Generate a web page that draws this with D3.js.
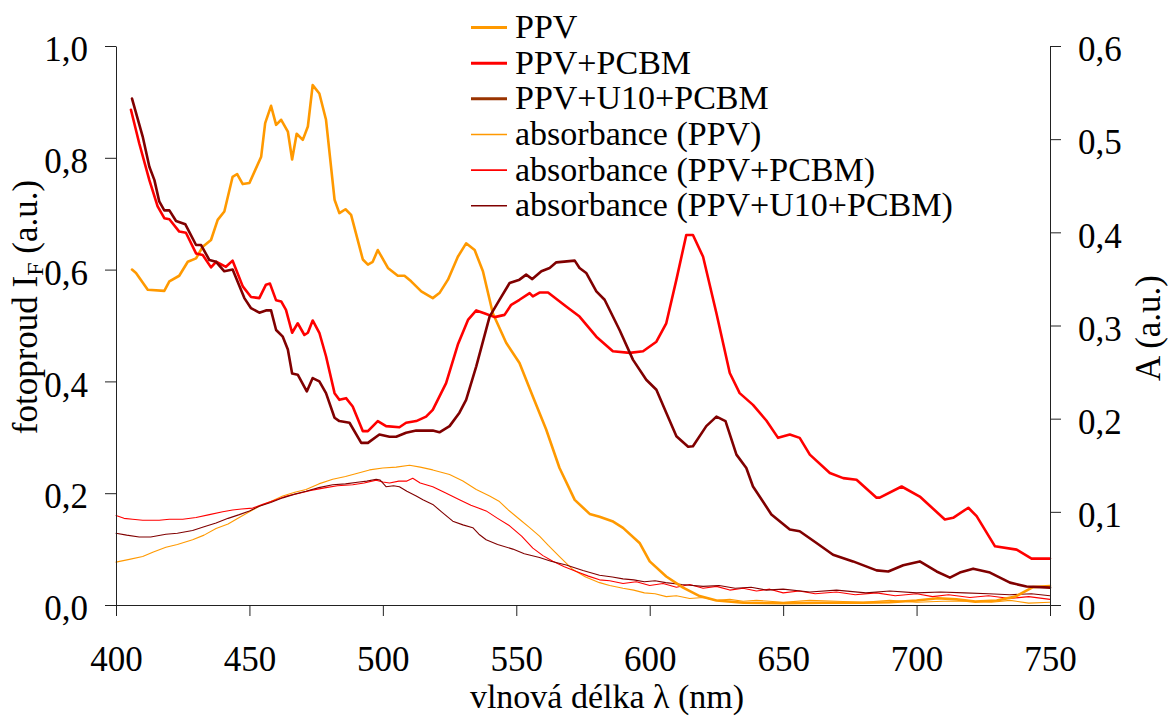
<!DOCTYPE html>
<html>
<head>
<meta charset="utf-8">
<script src="https://cdn.jsdelivr.net/npm/d3@7"></script>
<style>
html,body{margin:0;padding:0;background:#fff;}
svg{display:block;}
text{font-family:"Liberation Serif","Times New Roman","DejaVu Serif",serif;fill:#000;}
</style>
</head>
<body>
<svg id="chart" width="1168" height="718"></svg>
<script>
// ---------- DATA ----------
const xTicks = [400,450,500,550,600,650,700,750];
const yLeftTicks = [0,0.2,0.4,0.6,0.8,1.0];
const yRightTicks = [0,0.1,0.2,0.3,0.4,0.5,0.6];

const seriesNames = ["PPV","PPV+PCBM","PPV+U10+PCBM","absorbance (PPV)","absorbance (PPV+PCBM)","absorbance (PPV+U10+PCBM)"];

// photocurrent PPV (left axis)
const ppvWl = [406,407.5,411.9,418.1,420,423.7,426.9,430,432.5,435.6,438.1,440.6,443.7,445.4,447.5,450,454.4,455.9,458.1,460,461.9,464.4,466,467.7,470,471.9,473.7,476.2,478.7,481.9,483.7,486,488.1,492.5,494.4,496.2,498.1,501.9,505.6,508.1,510.6,514.4,518.7,521.2,524.4,528.1,531.2,534.4,537.5,541.2,546.2,551.2,556.2,561.2,566.2,571.9,577.5,581.2,586,590,596.2,600,606.2,612.5,618.7,625,635,650,665,680,690,700,708,715,722,730,737,743.6,750];
const ppvVal = [0.600,0.594,0.564,0.562,0.579,0.589,0.614,0.620,0.641,0.653,0.689,0.704,0.766,0.771,0.753,0.755,0.802,0.862,0.893,0.859,0.868,0.847,0.797,0.843,0.832,0.856,0.930,0.915,0.868,0.725,0.701,0.708,0.698,0.618,0.609,0.614,0.635,0.603,0.589,0.589,0.579,0.561,0.549,0.558,0.582,0.623,0.647,0.635,0.597,0.522,0.469,0.433,0.373,0.314,0.245,0.188,0.163,0.158,0.150,0.138,0.111,0.078,0.051,0.031,0.016,0.008,0.004,0.003,0.004,0.004,0.005,0.008,0.012,0.010,0.006,0.008,0.015,0.032,0.034];

// photocurrent PPV+PCBM (left axis)
const pcbmWl = [405.6,408.7,412.5,415.6,418.1,420,423.7,426.2,430,432.5,435.6,437.5,441.2,443.7,447.5,450.6,453.7,456.2,457.7,460,461.9,463.7,466,468.1,470.6,471.9,473.7,476.2,478.7,481.9,483.7,486.2,488.7,492.5,494.4,498.1,501.2,506.2,508.7,512.5,516.2,518.7,523.7,528.1,531.9,535,538,541.9,545.6,548.1,551.2,555,556.2,558.7,561.9,568.7,573.7,580,586.2,592.5,597.5,602.5,606.2,610,613.7,616.2,620,625,630,633.7,638.7,643.7,648.1,652.5,656.2,660,667.5,672.5,677.5,685,686.2,694.4,701.2,710.6,713.7,719.4,722.5,729.4,737.5,743.1,750];
const pcbmVal = [0.886,0.826,0.760,0.713,0.692,0.690,0.668,0.666,0.629,0.626,0.604,0.614,0.605,0.616,0.570,0.551,0.549,0.573,0.575,0.545,0.543,0.528,0.487,0.504,0.483,0.487,0.509,0.487,0.445,0.379,0.367,0.370,0.355,0.311,0.311,0.329,0.320,0.318,0.326,0.329,0.337,0.349,0.397,0.466,0.510,0.527,0.522,0.515,0.519,0.537,0.546,0.558,0.552,0.559,0.559,0.534,0.516,0.480,0.454,0.451,0.454,0.471,0.504,0.582,0.662,0.662,0.623,0.522,0.415,0.379,0.358,0.330,0.299,0.305,0.299,0.269,0.236,0.227,0.224,0.192,0.192,0.212,0.194,0.153,0.156,0.174,0.159,0.105,0.099,0.083,0.083];

// photocurrent PPV+U10+PCBM (left axis)
const u10Wl = [406,410,412.5,414.4,416.2,418.1,420,422.5,426,430,431.9,435,437.5,440.6,443.7,448.1,450.6,453.7,456.2,458.1,460,462.5,464.4,466,468.1,471.5,473.7,476.2,478.7,481.9,483.7,487.5,491.9,494.4,498.7,502.5,505,508.7,512.5,518.7,521.2,525,528.7,531.2,535,540,543.7,547.5,551.2,553.7,556,559.4,562.5,565,571.9,573.7,576.2,580,583.1,588.7,593.7,598.7,602.5,606.2,610,614.4,616.2,621.2,625,628.4,632.5,636.2,638.7,645.6,652.5,656.2,662.5,668.7,676.2,685,689.4,695,701.2,707.5,712.5,716.2,721.2,727.5,735,741.2,750];
const u10Val = [0.906,0.838,0.784,0.760,0.722,0.706,0.706,0.687,0.681,0.644,0.644,0.617,0.614,0.597,0.600,0.549,0.531,0.523,0.527,0.527,0.492,0.480,0.457,0.414,0.412,0.382,0.406,0.400,0.379,0.335,0.329,0.326,0.290,0.290,0.305,0.301,0.301,0.308,0.312,0.312,0.309,0.320,0.344,0.367,0.427,0.516,0.546,0.576,0.582,0.591,0.583,0.597,0.603,0.613,0.616,0.603,0.594,0.561,0.546,0.492,0.439,0.403,0.385,0.344,0.302,0.283,0.284,0.320,0.337,0.329,0.269,0.245,0.212,0.162,0.135,0.132,0.111,0.090,0.078,0.062,0.060,0.071,0.078,0.060,0.049,0.058,0.065,0.058,0.040,0.033,0.031];

// absorbance PPV (right axis)
const absPpvWl = [400,405,410,414,418.7,423,428.7,433,437.5,442,446.2,450,453.7,458,462.5,467,471.2,476,481.2,486,491.2,495,500,505,510,514,518.7,525,530,535,540,543.7,547,551.2,555,558.7,562,566.2,571.2,576,581.2,585,590,594,598,602,606.2,610,615,620,625,630,635,640,650,660,670,680,690,700,710,720,728,735,742,750];
const absPpvVal = [0.046,0.049,0.052,0.057,0.062,0.065,0.070,0.075,0.082,0.087,0.094,0.100,0.106,0.111,0.117,0.121,0.124,0.130,0.135,0.138,0.142,0.145,0.147,0.148,0.150,0.148,0.145,0.140,0.133,0.124,0.117,0.111,0.102,0.092,0.083,0.074,0.064,0.052,0.038,0.030,0.024,0.021,0.018,0.016,0.013,0.012,0.009,0.010,0.007,0.008,0.005,0.006,0.004,0.005,0.003,0.005,0.004,0.003,0.005,0.003,0.004,0.004,0.003,0.005,0.002,0.003];

// absorbance PPV+PCBM (right axis)
const absPcbmWl = [400,403,406.2,410,416.2,420,425,430,435,440,443.7,447,451.2,455,460,464,468.7,473,478.7,483,488.7,493,497.5,500,502.5,506,509,511.2,514,518.7,523,528.7,533,538.7,543,547.5,552,556.2,560,563.7,568,572.5,577,581.2,585,590,595,600,605,610,615,620,625,630,635,640,645,650,656,662,670,677,685,692,700,706,712,720,727,735,742,750];
const absPcbmVal = [0.096,0.093,0.092,0.091,0.091,0.092,0.092,0.094,0.097,0.100,0.102,0.103,0.104,0.108,0.113,0.117,0.120,0.123,0.126,0.128,0.129,0.131,0.134,0.132,0.131,0.133,0.133,0.136,0.131,0.127,0.121,0.113,0.107,0.101,0.093,0.085,0.074,0.061,0.053,0.047,0.041,0.036,0.031,0.027,0.026,0.023,0.025,0.021,0.023,0.019,0.022,0.018,0.020,0.016,0.018,0.015,0.017,0.013,0.015,0.012,0.014,0.011,0.013,0.010,0.012,0.009,0.011,0.008,0.010,0.007,0.009,0.006];

// absorbance PPV+U10+PCBM (right axis)
const absU10Wl = [400,404,408.7,413,418.7,423,428.7,433,437.5,442,446.2,450,453.7,458,462.5,467,471.2,476,481.2,486,491.2,494,497.5,499,501.2,504,506.2,509,512.5,515,518.7,522,526.2,530,533.7,536,538.7,543,548.7,553,558.7,563,568.7,575,581.2,586,590,594,598,602,606,612,620,626,632,638,643.7,650,660,670,681,690,700,709,718,727,735,743,750];
const absU10Val = [0.077,0.075,0.073,0.073,0.076,0.077,0.080,0.084,0.088,0.093,0.097,0.101,0.106,0.110,0.115,0.119,0.122,0.126,0.129,0.130,0.132,0.133,0.135,0.134,0.127,0.128,0.127,0.122,0.117,0.113,0.108,0.100,0.090,0.086,0.083,0.076,0.070,0.065,0.060,0.055,0.051,0.047,0.043,0.037,0.032,0.030,0.028,0.027,0.025,0.026,0.024,0.022,0.020,0.021,0.018,0.019,0.016,0.017,0.014,0.016,0.013,0.015,0.013,0.014,0.013,0.012,0.011,0.012,0.010];

const colors = ["#FF9900","#FF0000","#800000","#FF9900","#FF0000","#800000"];
const legendSwatchColors = ["#FF9900","#FF0000","#993300","#FF9900","#FF0000","#800000"];
const widths = [2.6,2.6,2.6,1.1,1.1,1.1];

// ---------- CHART ----------
const svg = d3.select("#chart");
const x = d3.scaleLinear().domain([400,750]).range([116,1050]);
const yL = d3.scaleLinear().domain([0,1]).range([605,46]);
const yR = d3.scaleLinear().domain([0,0.6]).range([605,46]);

const comma1 = d => d3.format(".1f")(d).replace(".",",");

const series = [
  {wl:ppvWl, v:ppvVal, y:yL},
  {wl:pcbmWl, v:pcbmVal, y:yL},
  {wl:u10Wl, v:u10Val, y:yL},
  {wl:absPpvWl, v:absPpvVal, y:yR},
  {wl:absPcbmWl, v:absPcbmVal, y:yR},
  {wl:absU10Wl, v:absU10Val, y:yR}
];

const drawOrder = [3,4,5,0,1,2];
drawOrder.forEach(i => {
  const s = series[i];
  const pts = s.wl.map((w,k)=>[w,s.v[k]]);
  const line = d3.line().x(d=>x(d[0])).y(d=>s.y(d[1]));
  svg.append("path").attr("d",line(pts)).attr("fill","none")
    .attr("stroke",colors[i]).attr("stroke-width",widths[i])
    .attr("stroke-linejoin","round").attr("stroke-linecap","round");
});

function styleAxis(g){
  g.selectAll("path.domain").attr("stroke","#222").attr("stroke-width",1);
  g.selectAll(".tick line").attr("stroke","#222").attr("stroke-width",1);
  g.selectAll("text").attr("font-size",35).attr("fill","#000")
    .style("font-family",'"Liberation Serif","Times New Roman","DejaVu Serif",serif');
}
const gL = svg.append("g").attr("transform","translate(116,0)")
  .call(d3.axisLeft(yL).tickValues(yLeftTicks).tickFormat(comma1).tickSize(11).tickSizeOuter(0).tickPadding(17));
styleAxis(gL); gL.selectAll("text").attr("dy","0.42em");

const gR = svg.append("g").attr("transform","translate(1050,0)")
  .call(d3.axisRight(yR).tickValues(yRightTicks).tickFormat(d=> d===0 ? "0" : comma1(d)).tickSize(11).tickSizeOuter(0).tickPadding(17));
styleAxis(gR); gR.selectAll("text").attr("dy","0.42em");

const gB = svg.append("g").attr("transform","translate(0,605)")
  .call(d3.axisBottom(x).tickValues(xTicks).tickFormat(d3.format("d")).tickSize(11).tickSizeOuter(0).tickPadding(30));
styleAxis(gB);

svg.append("text").attr("x",607).attr("y",708).attr("text-anchor","middle").attr("font-size",34)
  .text("vlnová délka λ (nm)");

const tl = svg.append("text").attr("transform","translate(37,307) rotate(-90)")
  .attr("text-anchor","middle").attr("font-size",35);
tl.append("tspan").text("fotoproud I");
tl.append("tspan").attr("font-size",24).attr("dy",6).text("F");
tl.append("tspan").attr("dy",-6).text(" (a.u.)");

svg.append("text").attr("transform","translate(1160,328) rotate(-90)")
  .attr("text-anchor","middle").attr("font-size",35).text("A (a.u.)");

const lg = svg.append("g");
seriesNames.forEach((name,i)=>{
  const yy = 27.5 + i*35.65;
  lg.append("line").attr("x1",471).attr("x2",507).attr("y1",yy).attr("y2",yy)
    .attr("stroke",legendSwatchColors[i]).attr("stroke-width", i<3 ? 3 : 1.6);
  lg.append("text").attr("x",515).attr("y",yy+10.5).attr("font-size",34).text(name);
});
</script>
</body>
</html>
